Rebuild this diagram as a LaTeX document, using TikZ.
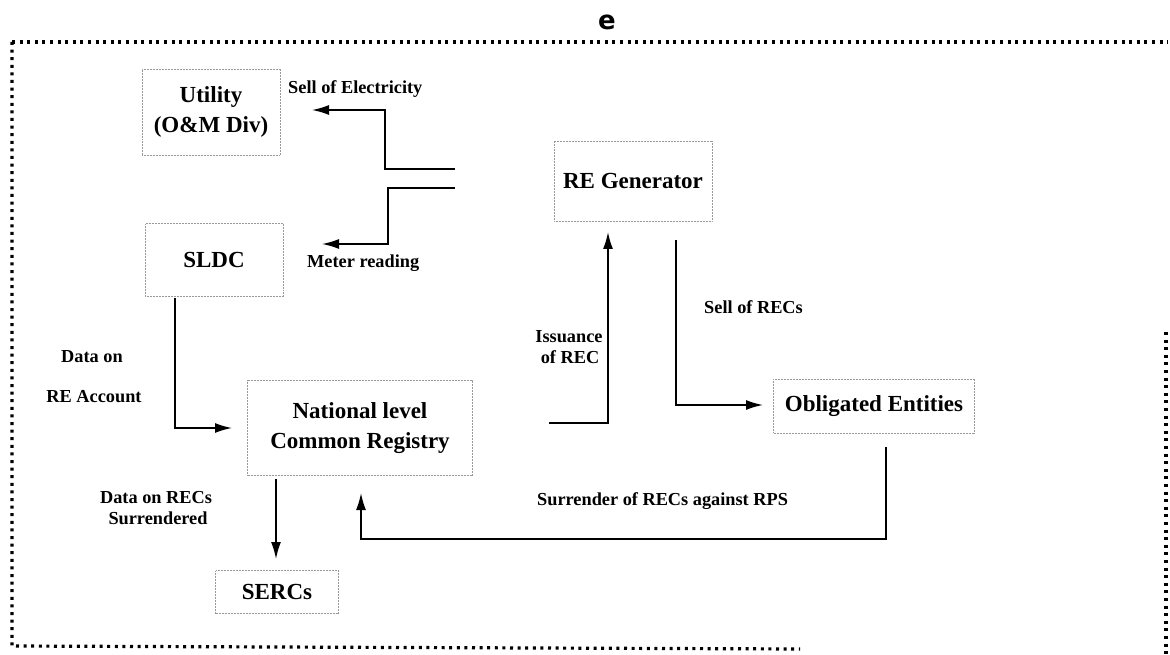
\documentclass[tikz,border=0pt]{standalone}
\usepackage{fontspec}
\setmainfont{Liberation Serif}
\newfontfamily\efont{DejaVu Sans}
\usetikzlibrary{arrows.meta}
\tikzset{
  x=1pt, y=-1pt,
  boxnode/.style={draw=black!40, line width=0.5pt, densely dotted, minimum width=#1, inner sep=0pt, align=center,
    font=\bfseries\fontsize{23}{30}\selectfont},
  lbl/.style={inner sep=0pt, font=\bfseries\fontsize{18.3}{21}\selectfont},
  arr/.style={line width=1.6pt, -{Latex[length=17pt,width=10pt]}},
  frame/.style={line width=3.2pt, dash pattern=on 3pt off 4.6pt},
}
\begin{document}
\begin{tikzpicture}
\useasboundingbox (0,0) rectangle (1170,655);
% outer dotted frame
\draw[frame] (12,42) -- (1168,42);
\draw[frame] (12,42) -- (12,646) -- (800,649);
\draw[frame] (1166,332) -- (1166,655);
\node[inner sep=0pt, font=\efont\bfseries\fontsize{26}{30}\selectfont, anchor=base] (etxt) at (607,30) {e};

% boxes
\node[boxnode=138pt, minimum height=86pt] (util) at (211,112) {Utility\\(O\&M Div)};
\node[boxnode=138pt, minimum height=73pt] (sldc) at (214,260) {SLDC};
\node[boxnode=158pt, minimum height=80pt] (gen) at (633,181) {RE Generator};
\node[boxnode=225pt, minimum height=95pt] (reg) at (360,428) {National level\\Common Registry};
\node[boxnode=201pt, minimum height=54pt] (obl) at (874,406) {Obligated Entities};
\node[boxnode=123pt, minimum height=43pt] (serc) at (277,592) {SERCs};

% connector end points
\coordinate (e1s) at (455,169); \coordinate (e1e) at (312,110);
\coordinate (m1s) at (455,188); \coordinate (m1e) at (322,244);
\coordinate (s1s) at (175,298); \coordinate (s1e) at (232,428);
\coordinate (i1s) at (549,423); \coordinate (i1e) at (608,232);
\coordinate (r1s) at (676,240); \coordinate (r1e) at (763,405);
\coordinate (u1s) at (886,447); \coordinate (u1e) at (361,493);
\coordinate (d1s) at (276,479); \coordinate (d1e) at (276,559);

\draw[arr] (e1s) -- (385,169) |- (e1e);
\draw[arr] (m1s) -- (388,188) |- (m1e);
\draw[arr] (s1s) |- (s1e);
\draw[arr] (i1s) -| (i1e);
\draw[arr] (r1s) |- (r1e);
\draw[arr] (u1s) -- (886,539) -| (u1e);
\draw[arr] (d1s) -- (d1e);

% labels
\node[lbl, anchor=base west] (l1) at (288,94) {Sell of Electricity};
\node[lbl, anchor=base west] (l2) at (307,267) {Meter reading};
\node[lbl, anchor=base west] (l3) at (704,313) {Sell of RECs};
\node[lbl, anchor=base] (l4a) at (569,342) {Issuance};
\node[lbl, anchor=base] (l4b) at (570,363) {of REC};
\node[lbl, anchor=base] (l5a) at (92,362) {Data on};
\node[lbl, anchor=base] (l5b) at (94,402) {RE Account};
\node[lbl, anchor=base] (l6a) at (156,503) {Data on RECs};
\node[lbl, anchor=base] (l6b) at (158,524) {Surrendered};
\node[lbl, anchor=base west] (l7) at (537,505) {Surrender of RECs against RPS};
\end{tikzpicture}
\end{document}
